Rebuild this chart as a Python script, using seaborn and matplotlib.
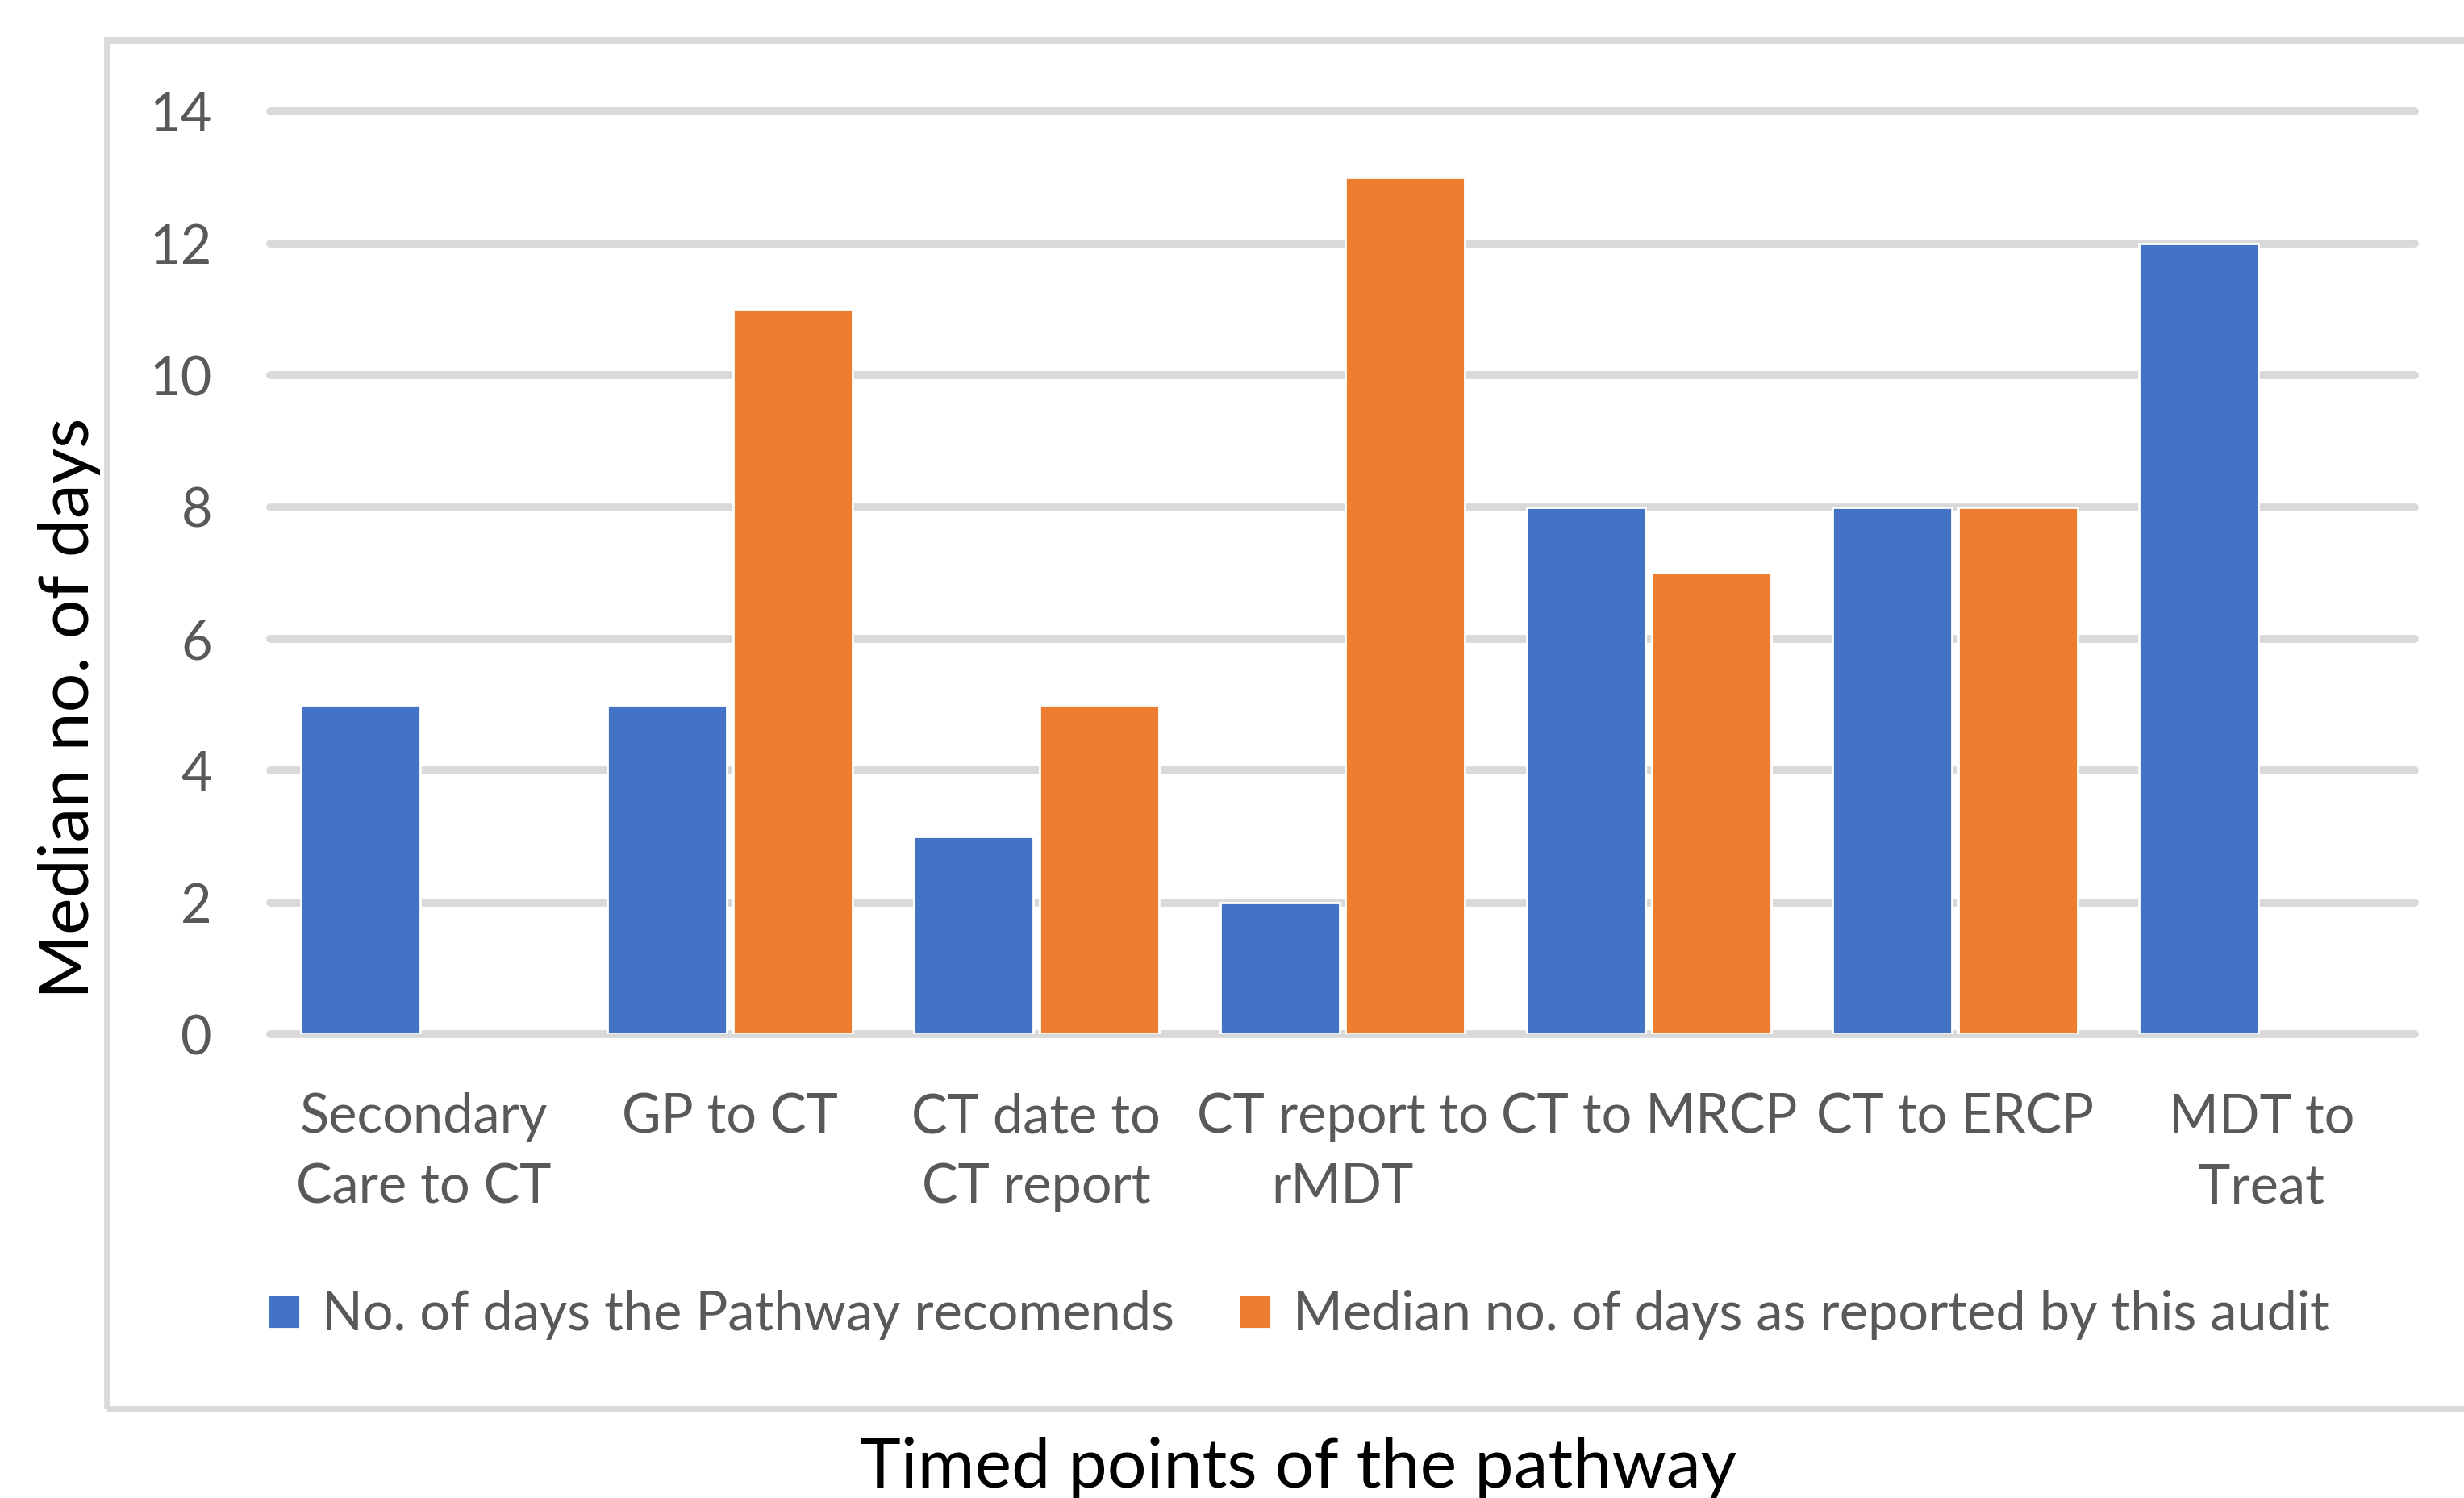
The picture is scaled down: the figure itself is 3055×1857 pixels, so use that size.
import numpy as np
import pandas as pd
import matplotlib.pyplot as plt
import seaborn as sns
from matplotlib.patches import Rectangle

# chart values
categories = ['Secondary\nCare to CT', 'GP to CT', 'CT date to\nCT report', 'CT report to\nrMDT',
              'CT to MRCP', 'CT to ERCP', 'MDT to\nTreat']
pathway_days = [5, 5, 3, 2, 8, 8, 12]
audit_days = [np.nan, 11, 5, 13, 7, 8, np.nan]
series_names = ['No. of days the Pathway recomends', 'Median no. of days as reported by this audit']
y_ticks = [0, 2, 4, 6, 8, 10, 12, 14]

df = pd.DataFrame({'point': categories, series_names[0]: pathway_days, series_names[1]: audit_days})
df = df.melt(id_vars='point', var_name='series', value_name='days').dropna()

sns.set_style('white')
plt.rcParams['font.family'] = ['Lato', 'DejaVu Sans']

fig = plt.figure(figsize=(15.275, 9.285), dpi=200)
ax = fig.add_axes([0.1097, 0.3095, 0.8703, 0.616])

sns.barplot(data=df, x='point', y='days', hue='series', order=categories, hue_order=series_names,
            palette=['#4472C4', '#ED7D31'], width=0.82, gap=0.05, saturation=1, ax=ax)

ax.set_ylim(0, 14)
ax.set_xlim(-0.5, len(categories) - 0.5)
ax.set_yticks(y_ticks)
ax.set_axisbelow(True)
ax.yaxis.grid(True, color='#D9D9D9', lw=3.5)
for gl in ax.yaxis.get_gridlines():
    gl.set_clip_on(False)
for s in ax.spines.values():
    s.set_visible(False)
ax.tick_params(axis='y', length=0, pad=26, labelsize=24, labelcolor='#595959')
ax.tick_params(axis='x', length=0, pad=26, labelsize=24, labelcolor='#595959')
for t in ax.get_xticklabels():
    t.set_linespacing(1.5)

ax.set_xlabel('')
ax.set_ylabel('Median no. of days', fontsize=31, color='black')
ax.yaxis.set_label_coords(-0.079, 0.354)

handles, labels = ax.get_legend_handles_labels()
ax.get_legend().remove()
fig.legend(handles, labels, loc='center', bbox_to_anchor=(0.527, 0.122), ncol=2, frameon=False,
           fontsize=24, labelcolor='#595959', handlelength=0.6, handleheight=0.6,
           handletextpad=0.4, columnspacing=1.2)

fig.text(0.527, 0.041, 'Timed points of the pathway', fontsize=31, ha='center', va='top', color='black')

# outer chart border
fig.patches.append(Rectangle((0.0434, 0.059), 1.0, 0.914, transform=fig.transFigure,
                             fill=False, edgecolor='#D9D9D9', lw=2.8))

fig.savefig('out.png', dpi=200)
